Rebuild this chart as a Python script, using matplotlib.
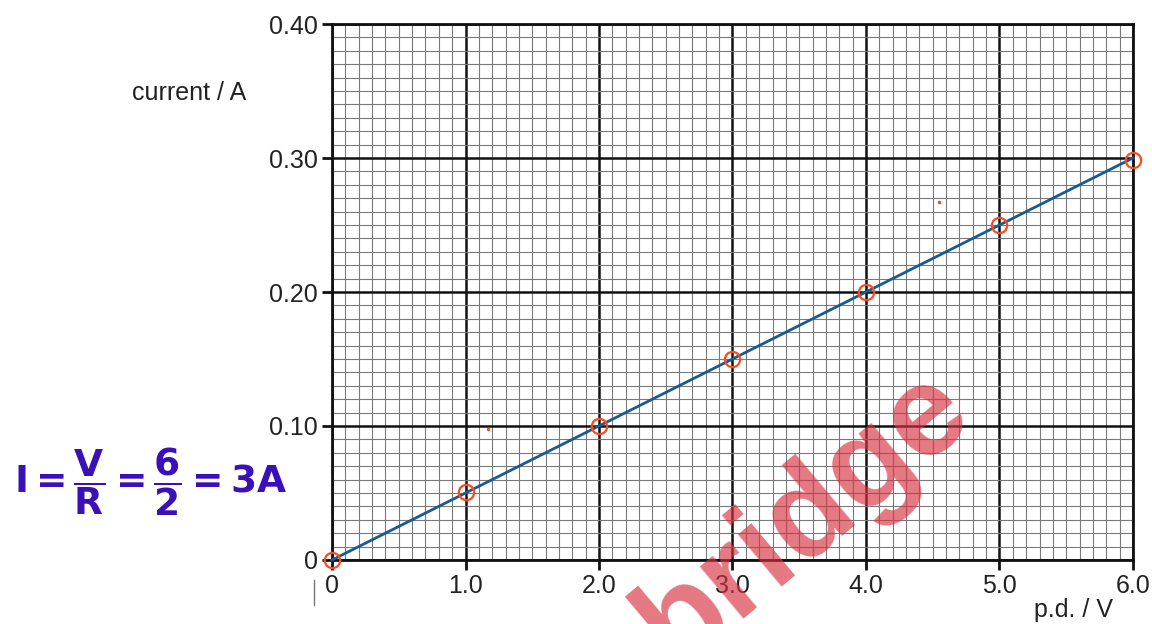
import numpy as np
import matplotlib.pyplot as plt
from matplotlib.ticker import MultipleLocator, FixedLocator

plt.rcParams['font.family'] = ['Liberation Sans', 'DejaVu Sans']

# datos
pd_V = [0.0, 1.0, 2.0, 3.0, 4.0, 5.0, 6.0]
current_A = [0.0, 0.051, 0.10, 0.15, 0.20, 0.25, 0.2985]
line_x = [0.0, 6.0]
line_y = [0.0, 0.30]
stray_x = [1.17, 4.55]
stray_y = [0.098, 0.267]
xticks = [0, 1, 2, 3, 4, 5, 6]
xlabels = ['0', '1.0', '2.0', '3.0', '4.0', '5.0', '6.0']
yticks = [0, 0.1, 0.2, 0.3, 0.4]
ylabels = ['0', '0.10', '0.20', '0.30', '0.40']

fig = plt.figure(figsize=(11.52, 6.24), dpi=100)
ax = fig.add_axes([0.2882, 0.1026, 0.6953, 0.8589])

ax.set_xlim(0, 6)
ax.set_ylim(0, 0.4)

# papel milimetrado
ax.xaxis.set_major_locator(FixedLocator(xticks))
ax.yaxis.set_major_locator(FixedLocator(yticks))
ax.xaxis.set_minor_locator(MultipleLocator(0.1))
ax.yaxis.set_minor_locator(MultipleLocator(0.01))
ax.grid(which='minor', color='#7a7a7a', lw=0.8)
ax.grid(which='major', color='#111111', lw=1.8)
ax.set_axisbelow(True)
ax.set_xticklabels(xlabels)
ax.set_yticklabels(ylabels)
ax.tick_params(which='major', direction='out', length=7, width=2, color='#111111',
               labelsize=18, pad=3, labelcolor='#222222')
ax.tick_params(which='minor', length=0)
for s in ax.spines.values():
    s.set_linewidth(2)
    s.set_color('#111111')

ax.plot(line_x, line_y, color='#1a5a92', lw=2, zorder=3, clip_on=False)
ax.plot(pd_V, current_A, 'o', ms=11, mfc='none', mec='#ff4a1a', mew=1.6,
        zorder=4, clip_on=False)
ax.plot(stray_x, stray_y, '.', ms=3, color='#ff4a1a', zorder=4)

fig.text(0.115, 0.84, 'current / A', fontsize=18, color='#222222')
fig.text(0.898, 0.012, 'p.d. / V', fontsize=18, color='#222222')

# marca de agua
fig.text(0.698, 0.17, 'bridge', fontsize=92, fontweight='bold', color='#d8303f',
         alpha=0.65, rotation=40, ha='center', va='center', zorder=10)

# anotacion a mano
fig.text(0.012, 0.228, r'$\mathbf{I=\dfrac{V}{R}=\dfrac{6}{2}=3A}$', fontsize=27,
         color='#3a10b8', va='center', zorder=10)

fig.add_artist(plt.Line2D([0.2725, 0.2725], [0.03, 0.07], color='#777777', lw=1))

fig.savefig('out.png', dpi=100)
